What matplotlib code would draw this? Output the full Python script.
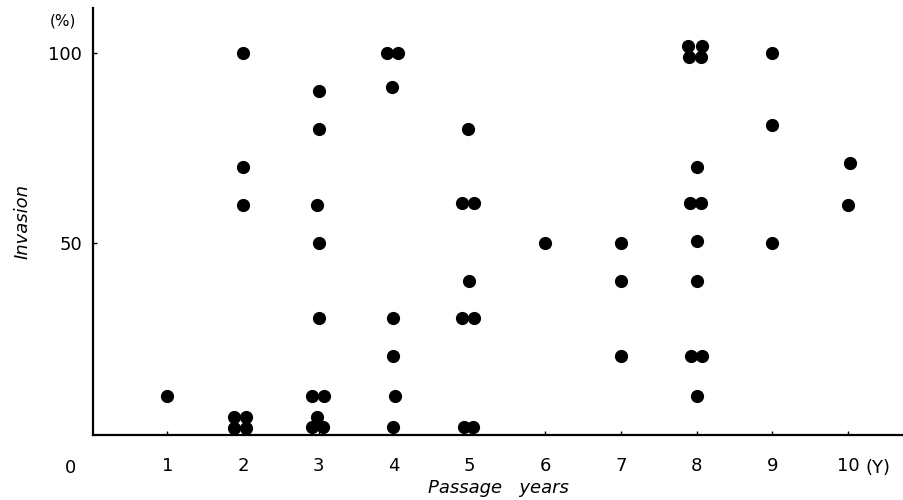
# Invasion (%) vs passage years - scatter of individual cases
import matplotlib.pyplot as plt

# data (x includes the small side-by-side offsets of overlapping dots)
passage = [1.0,
           2.0, 2.0, 2.0, 1.88, 2.04, 1.88, 2.04,
           3.0, 3.0, 2.98, 3.0, 3.0, 2.92, 3.07, 2.98, 2.92, 3.06,
           3.9, 4.05, 3.97, 3.98, 3.99, 4.01, 3.98,
           4.97, 4.9, 5.05, 4.99, 4.9, 5.05, 4.92, 5.04,
           6.0,
           7.0, 7.0, 7.0,
           7.88, 8.07, 7.9, 8.05, 8.0, 7.91, 8.05, 8.0, 8.0, 7.92, 8.07, 8.0,
           9.0, 9.0, 9.0,
           10.02, 10.0]
invasion = [9.5,
            100, 70, 60, 4, 4, 1, 1,
            90, 80, 60, 50, 30, 9.5, 9.5, 4, 1.2, 1.2,
            100, 100, 91, 30, 20, 9.5, 1.4,
            80, 60.5, 60.5, 40, 30, 30, 1.4, 1.4,
            50,
            50, 40, 20,
            102, 102, 99, 99, 70, 60.5, 60.5, 50.5, 40, 20, 20, 9.5,
            100, 81, 50,
            71, 60]
x_ticks = [1, 2, 3, 4, 5, 6, 7, 8, 9, 10]
x_labels = ['1', '2', '3', '4', '5', '6', '7', '8', '9', '10']
y_ticks = [50, 100]

plt.rcParams['font.family'] = 'DejaVu Sans'
fig = plt.figure(figsize=(9.04, 5.0), dpi=100)
ax = fig.add_axes([0.103, 0.13, 0.897, 0.854])

ax.scatter(passage, invasion, s=72, color='black', zorder=3, clip_on=False)

ax.set_xlim(0.02, 10.74)
ax.set_ylim(-0.8, 112)
ax.spines['top'].set_visible(False)
ax.spines['right'].set_visible(False)
ax.spines['left'].set_linewidth(1.6)
ax.spines['bottom'].set_linewidth(1.6)

ax.set_xticks(x_ticks)
ax.set_xticklabels(x_labels, fontsize=13)
ax.set_yticks(y_ticks)
ax.set_yticklabels([str(v) for v in y_ticks], fontsize=13)
ax.tick_params(axis='both', direction='in', length=3, width=1)
ax.tick_params(axis='x', pad=16)
ax.tick_params(axis='y', pad=8)

# origin label, units
ax.text(-0.28, -0.078, '0', transform=ax.get_xaxis_transform(), fontsize=13,
        ha='center', va='center')
ax.text(10.4, -0.078, '(Y)', transform=ax.get_xaxis_transform(), fontsize=13,
        ha='center', va='center')
ax.text(-0.38, 108.5, '(%)', fontsize=11, ha='center', va='center', clip_on=False)

ax.set_ylabel('Invasion', fontsize=13, style='italic', labelpad=12)
ax.set_xlabel('Passage   years', fontsize=13, style='italic', labelpad=3)

plt.savefig('out.png', dpi=100)
